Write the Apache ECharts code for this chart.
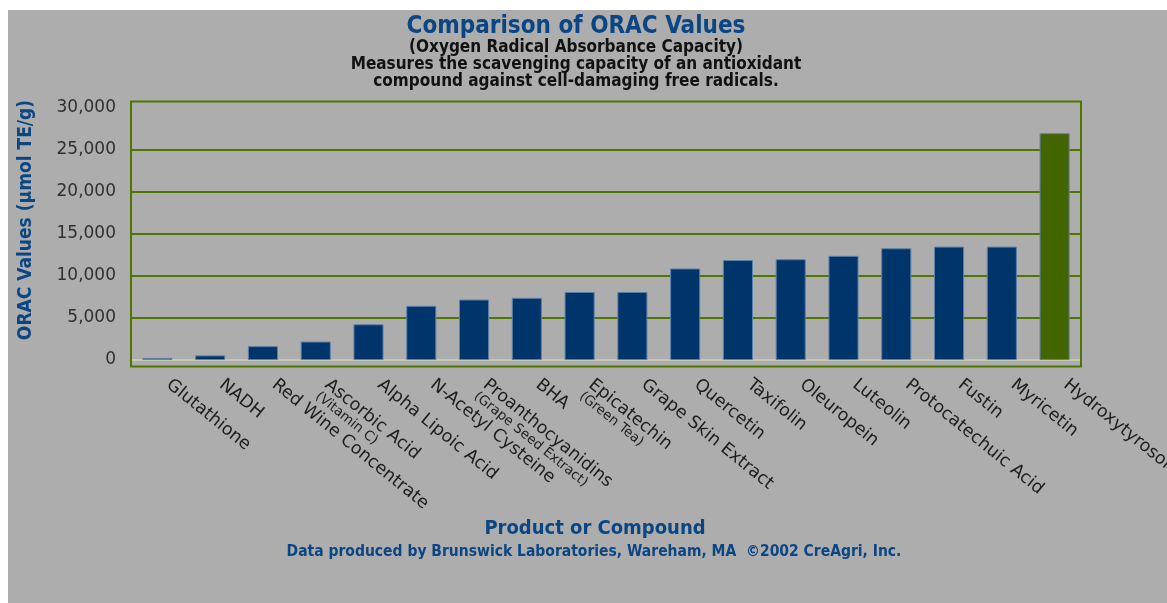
<!DOCTYPE html>
<html>
<head>
<meta charset="utf-8">
<script src="https://cdn.jsdelivr.net/npm/echarts@6/dist/echarts.min.js"></script>
<style>
  html, body { margin: 0; padding: 0; background: #ffffff; }
  #chart { position: absolute; left: 8px; top: 10px; width: 1159px; height: 593px; background: #adadad; }
</style>
</head>
<body>
<div id="chart"></div>
<script>
// compound names, small second line, ORAC values (µmol TE/g)
const categories = ['Glutathione', 'NADH', 'Red Wine Concentrate', 'Ascorbic Acid', 'Alpha Lipoic Acid',
  'N-Acetyl Cysteine', 'Proanthocyanidins', 'BHA', 'Epicatechin', 'Grape Skin Extract', 'Quercetin',
  'Taxifolin', 'Oleuropein', 'Luteolin', 'Protocatechuic Acid', 'Fustin', 'Myricetin', 'Hydroxytyrosol'];
const notes = ['', '', '', '(Vitamin C)', '', '', '(Grape Seed Extract)', '', '(Green Tea)',
  '', '', '', '', '', '', '', '', ''];
const values = [250, 550, 1650, 2200, 4250, 6450, 7200, 7400, 8100, 8100, 10900, 11900, 12000,
  12400, 13300, 13500, 13500, 27000];
const highlight = ['Hydroxytyrosol'];

const narrow = "'DejaVu Sans Condensed', 'Liberation Sans Narrow', sans-serif";
const wide = "'DejaVu Sans', sans-serif";
const blue = '#0b4684';
const green = '#4f7600';

let chart = echarts.init(document.getElementById('chart'));
chart.setOption({
  title: [
    {
      text: 'Comparison of ORAC Values',
      subtext: '(Oxygen Radical Absorbance Capacity)\nMeasures the scavenging capacity of an antioxidant\ncompound against cell-damaging free radicals.',
      left: 563, top: 0, textAlign: 'center',
      itemGap: 0,
      textStyle: { color: blue, fontSize: 24, fontWeight: 'bold', fontFamily: narrow },
      subtextStyle: { color: '#111', fontSize: 17, fontWeight: 'bold', fontFamily: narrow, lineHeight: 17, align: 'center' }
    },
    {
      text: 'Product or Compound',
      left: 582, top: 504, textAlign: 'center',
      textStyle: { color: blue, fontSize: 20, fontWeight: 'bold', fontFamily: narrow }
    },
    {
      text: 'Data produced by Brunswick Laboratories, Wareham, MA  \u00a92002 CreAgri, Inc.',
      left: 581, top: 529, textAlign: 'center',
      textStyle: { color: blue, fontSize: 15.5, fontWeight: 'bold', fontFamily: narrow }
    }
  ],
  graphic: [{
    type: 'rect', z: 5, silent: true,
    shape: { x: 123, y: 91.5, width: 950, height: 265 },
    style: { fill: 'none', stroke: green, lineWidth: 2 }
  }],
  grid: { left: 123, right: 86, top: 98, bottom: 243, outerBoundsMode: 'none', containLabel: false },
  xAxis: {
    type: 'category',
    data: categories,
    axisLine: { show: false },
    axisTick: { show: false },
    axisLabel: {
      rotate: -39,
      margin: 22,
      interval: 0,
      padding: [0, 0, 0, 9],
      color: '#1e1e1e',
      fontFamily: wide,
      formatter: function (v, i) {
        return '{a|' + v + '}\n{b|' + (notes[i] || ' ') + '}';
      },
      rich: {
        a: { fontSize: 17.5, color: '#1e1e1e', lineHeight: 18, fontFamily: wide },
        b: { fontSize: 13.5, color: '#1e1e1e', lineHeight: 13, fontFamily: wide }
      }
    }
  },
  yAxis: {
    type: 'value',
    min: 0, max: 30000, interval: 5000,
    name: 'ORAC Values (\u00b5mol TE/g)',
    nameLocation: 'middle',
    nameGap: 95,
    nameTextStyle: { color: blue, fontSize: 19, fontWeight: 'bold', fontFamily: narrow, padding: [0, 0, 0, 28] },
    axisLine: { show: false },
    axisTick: { show: false },
    axisLabel: { color: '#303030', fontSize: 17, margin: 15, fontFamily: wide, padding: [4, 0, 0, 0] },
    splitLine: {
      lineStyle: {
        width: 2,
        color: ['#c4c9b4', green, green, green, green, green, 'rgba(0,0,0,0)']
      }
    }
  },
  series: [{
    type: 'bar',
    barWidth: '57%',
    data: values.map(function (v, i) {
      return {
        value: v,
        itemStyle: { color: highlight.indexOf(categories[i]) >= 0 ? '#436500' : '#00356b' }
      };
    }),
    itemStyle: { borderColor: '#5d80a8', borderWidth: 1 }
  }]
});
</script>
</body>
</html>
